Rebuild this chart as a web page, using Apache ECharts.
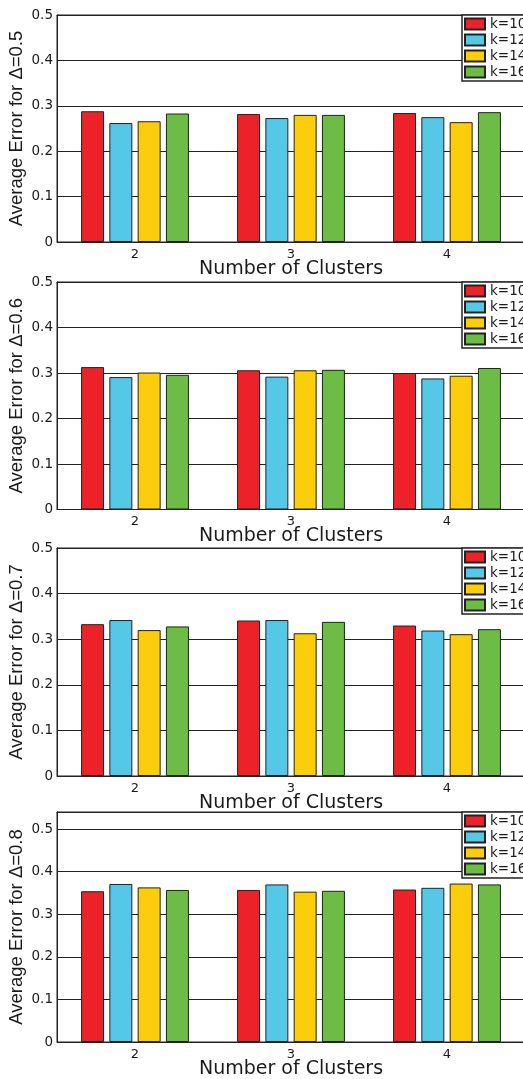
<!DOCTYPE html>
<html>
<head>
<meta charset="utf-8">
<script src="https://cdn.jsdelivr.net/npm/echarts@6/dist/echarts.min.js"></script>
<style>
  html, body { margin: 0; padding: 0; background: #fff; }
  #chart { width: 523px; height: 1079px; }
</style>
</head>
<body>
<div id="chart"></div>
<script>
// x categories, legend names, delta per panel
const clusters = ['2', '3', '4']
const kNames = ['k=10', 'k=12', 'k=14', 'k=16']
const deltas = ['0.5', '0.6', '0.7', '0.8']
const yMax = [0.5, 0.5, 0.5, 0.54]

// average error, one row per k, values for clusters 2,3,4
const errD05 = [
  [0.288, 0.282, 0.284],
  [0.262, 0.273, 0.275],
  [0.266, 0.280, 0.264],
  [0.283, 0.280, 0.286]
]
const errD06 = [
  [0.313, 0.306, 0.300],
  [0.291, 0.292, 0.288],
  [0.301, 0.306, 0.294],
  [0.296, 0.307, 0.311]
]
const errD07 = [
  [0.333, 0.341, 0.330],
  [0.342, 0.342, 0.319],
  [0.320, 0.313, 0.311],
  [0.328, 0.338, 0.322]
]
const errD08 = [
  [0.354, 0.357, 0.358],
  [0.371, 0.370, 0.362],
  [0.363, 0.353, 0.372],
  [0.357, 0.355, 0.370]
]
const panels = [errD05, errD06, errD07, errD08]

const colors = ['#ED2228', '#55C8E8', '#FBCD0A', '#6CBC46']
const gridTops = [15, 282, 548, 812]
const gridHeights = [227, 227.5, 228, 230]

const textColor = '#1a1a1a'
const grids = [], xAxes = [], yAxes = [], legends = [], series = []

panels.forEach((rows, p) => {
  grids.push({
    left: 57, top: gridTops[p], width: 468, height: gridHeights[p],
    outerBoundsMode: 'none', containLabel: false,
    show: true, borderColor: '#222', borderWidth: 1, backgroundColor: '#fff'
  })
  // bottom axis with labels
  xAxes.push({
    gridIndex: p, type: 'category', data: clusters, position: 'bottom',
    name: 'Number of Clusters', nameLocation: 'middle', nameGap: 17.5, nameMoveOverlap: false,
    nameTextStyle: { fontFamily: 'DejaVu Sans', fontSize: 19, color: textColor, verticalAlign: 'top' },
    axisLine: { lineStyle: { color: '#222', width: 1 } },
    axisTick: { inside: true, alignWithLabel: true, length: 4, lineStyle: { color: '#222' } },
    axisLabel: { fontFamily: 'DejaVu Sans', fontSize: 13, color: textColor, margin: 6 },
    splitLine: { show: false }
  })
  // top axis, ticks only
  xAxes.push({
    gridIndex: p, type: 'category', data: clusters, position: 'top',
    axisLine: { lineStyle: { color: '#222', width: 1 } },
    axisTick: { inside: true, alignWithLabel: true, length: 4, lineStyle: { color: '#222' } },
    axisLabel: { show: false }, splitLine: { show: false }
  })
  yAxes.push({
    gridIndex: p, type: 'value', min: 0, max: yMax[p], interval: 0.1,
    name: 'Average Error for Δ=' + deltas[p], nameLocation: 'middle', nameGap: 31, nameRotate: 90,
    nameMoveOverlap: false,
    nameTextStyle: { fontFamily: 'Liberation Sans', fontSize: 18.5, color: textColor },
    axisLine: { show: true, lineStyle: { color: '#222', width: 1 } },
    axisTick: { show: false },
    axisLabel: {
      fontFamily: 'DejaVu Sans', fontSize: 13.5, color: textColor, margin: 4,
      formatter: v => (Math.abs(v * 10 - Math.round(v * 10)) < 1e-6 ? String(+v.toFixed(1)) : '')
    },
    splitLine: { show: true, lineStyle: { color: '#222', width: 1 } }
  })
  legends.push({
    data: kNames, orient: 'vertical', left: 462, top: gridTops[p],
    backgroundColor: '#fff', borderColor: '#222', borderWidth: 1.5,
    padding: [2, 30, 2, 2], itemWidth: 20, itemHeight: 11, itemGap: 2, icon: 'rect',
    textStyle: { fontFamily: 'DejaVu Sans', fontSize: 13.5, color: textColor, lineHeight: 13 },
    selectedMode: false
  })
  rows.forEach((vals, k) => {
    series.push({
      name: kNames[k], type: 'bar', xAxisIndex: p * 2, yAxisIndex: p,
      data: vals, barWidth: 23, barGap: '23%',
      itemStyle: { color: colors[k], borderColor: '#222', borderWidth: 1 },
      silent: true
    })
  })
})

const myChart = echarts.init(document.querySelector('#chart'))
myChart.setOption({
  animation: false,
  grid: grids, xAxis: xAxes, yAxis: yAxes, legend: legends, series: series
})
</script>
</body>
</html>
